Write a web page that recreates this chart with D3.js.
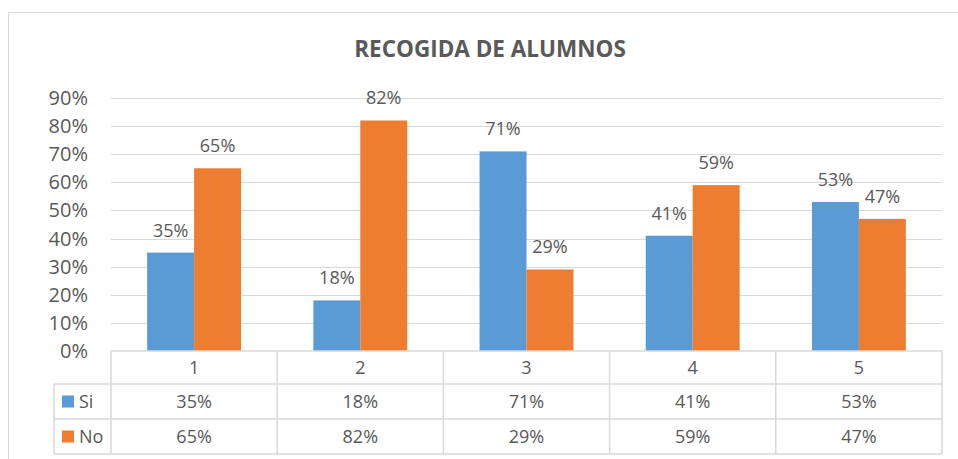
<!DOCTYPE html>
<html>
<head>
<meta charset="utf-8">
<script src="https://cdn.jsdelivr.net/npm/d3@7"></script>
<style>
  body { margin: 0; background: #fff; }
  svg { display: block; font-family: "Open Sans", sans-serif; }
</style>
</head>
<body>
<svg width="958" height="459"></svg>
<script>
const categories = ["1", "2", "3", "4", "5"];
const seriesNames = ["Si", "No"];
const siValues = [35, 18, 71, 41, 53];
const noValues = [65, 82, 29, 59, 47];
const yTicks = [0, 10, 20, 30, 40, 50, 60, 70, 80, 90];
const title = "RECOGIDA DE ALUMNOS";

const colors = { Si: "#5B9BD5", No: "#ED7D31" };
const grid = "#D9D9D9";
const textCol = "#595959";

const svg = d3.select("svg");

// outer chart border
svg.append("rect")
  .attr("x", 8.5).attr("y", 12.5)
  .attr("width", 970).attr("height", 470)
  .attr("fill", "none").attr("stroke", grid);

const plotLeft = 111, plotRight = 942, plotTop = 98, plotBottom = 351;

const y = d3.scaleLinear().domain([0, 90]).range([plotBottom, plotTop]);
const x0 = d3.scaleBand().domain(categories).range([plotLeft, plotRight]);
const x1 = d3.scaleBand().domain(seriesNames).range([0, x0.bandwidth()]).paddingOuter(0.77);

// title
svg.append("text")
  .attr("x", 490).attr("y", 57)
  .attr("text-anchor", "middle")
  .attr("font-size", "22.5px").attr("font-weight", "bold")
  .attr("fill", textCol)
  .text(title);

// gridlines
svg.append("g").selectAll("line")
  .data(yTicks.filter(d => d > 0))
  .join("line")
  .attr("x1", plotLeft).attr("x2", plotRight)
  .attr("y1", d => Math.round(y(d)) + 0.5).attr("y2", d => Math.round(y(d)) + 0.5)
  .attr("stroke", grid).attr("stroke-width", 1);

// y tick labels
svg.append("g").selectAll("text")
  .data(yTicks)
  .join("text")
  .attr("x", 88).attr("y", d => y(d))
  .attr("dy", "0.35em")
  .attr("text-anchor", "end")
  .attr("font-size", "20px")
  .attr("fill", textCol)
  .text(d => d + "%");

const rows = categories.map((c, i) => ({ cat: c, Si: siValues[i], No: noValues[i] }));

// bars
const groups = svg.append("g").selectAll("g")
  .data(rows)
  .join("g")
  .attr("transform", d => `translate(${x0(d.cat)},0)`);

groups.selectAll("rect")
  .data(d => seriesNames.map(s => ({ s, v: d[s] })))
  .join("rect")
  .attr("x", d => x1(d.s))
  .attr("y", d => y(d.v))
  .attr("width", x1.bandwidth())
  .attr("height", d => y(0) - y(d.v))
  .attr("fill", d => colors[d.s]);

groups.selectAll("text")
  .data(d => seriesNames.map(s => ({ s, v: d[s] })))
  .join("text")
  .attr("x", d => x1(d.s) + x1.bandwidth() / 2)
  .attr("y", d => y(d.v) - 16)
  .attr("text-anchor", "middle")
  .attr("font-size", "18px")
  .attr("fill", textCol)
  .text(d => d.v + "%");

// data table
const rowY = [351, 384, 419, 454];
const tableLeft = 54;
const t = svg.append("g").attr("stroke", grid).attr("stroke-width", 1.5);
t.append("line").attr("x1", plotLeft).attr("x2", plotRight).attr("y1", rowY[0]).attr("y2", rowY[0]);
rowY.slice(1).forEach(yy => {
  t.append("line").attr("x1", tableLeft).attr("x2", plotRight).attr("y1", yy).attr("y2", yy);
});
t.append("line").attr("x1", tableLeft).attr("x2", tableLeft).attr("y1", rowY[1]).attr("y2", rowY[3]);
categories.concat(["end"]).forEach((c, i) => {
  const xx = i < categories.length ? x0(c) : plotRight;
  t.append("line").attr("x1", xx).attr("x2", xx).attr("y1", rowY[0]).attr("y2", rowY[3]);
});

// header row (category labels)
svg.append("g").selectAll("text")
  .data(categories)
  .join("text")
  .attr("x", d => x0(d) + x0.bandwidth() / 2)
  .attr("y", (rowY[0] + rowY[1]) / 2)
  .attr("dy", "0.35em")
  .attr("text-anchor", "middle")
  .attr("font-size", "18px")
  .attr("fill", textCol)
  .text(d => d);

// series rows
const seriesRows = [{ name: "Si", vals: siValues }, { name: "No", vals: noValues }];
seriesRows.forEach((sr, r) => {
  const cy = (rowY[r + 1] + rowY[r + 2]) / 2;
  svg.append("rect")
    .attr("x", 62).attr("y", cy - 6)
    .attr("width", 12).attr("height", 12)
    .attr("fill", colors[sr.name]);
  svg.append("text")
    .attr("x", 79).attr("y", cy).attr("dy", "0.35em")
    .attr("font-size", "18px").attr("fill", textCol)
    .text(sr.name);
  svg.append("g").selectAll("text")
    .data(sr.vals)
    .join("text")
    .attr("x", (d, i) => x0(categories[i]) + x0.bandwidth() / 2)
    .attr("y", cy).attr("dy", "0.35em")
    .attr("text-anchor", "middle")
    .attr("font-size", "18px")
    .attr("fill", textCol)
    .text(d => d + "%");
});
</script>
</body>
</html>
